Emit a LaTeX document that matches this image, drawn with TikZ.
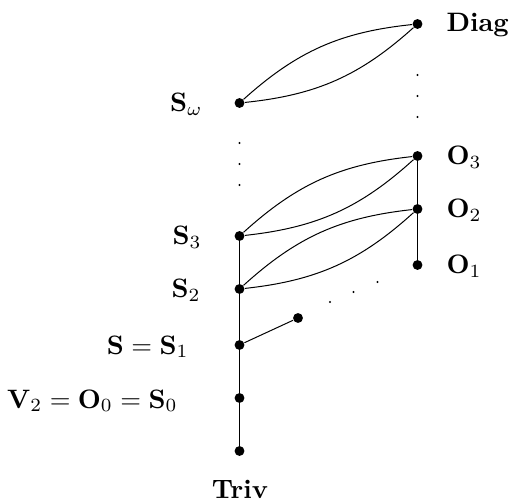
\documentclass[tikz,border=0pt]{standalone}
\begin{document}
\begin{tikzpicture}[x=0.375pt,y=-0.375pt,
  vtx/.style={circle,fill,inner sep=0pt,minimum size=3.7pt},
  smalldot/.style={circle,fill,inner sep=0pt,minimum size=0.85pt},
  lbl/.style={inner sep=0pt},
  every path/.style={line width=0.375pt}]
\useasboundingbox (0,0) rectangle (509,501);
% vertices
\node[vtx] (diag) at (417.5,24) {};
\node[vtx] (o3) at (417.5,156) {};
\node[vtx] (o2) at (417.5,209) {};
\node[vtx] (o1) at (417.5,265) {};
\node[vtx] (sw) at (239.5,103) {};
\node[vtx] (s3) at (239.5,236) {};
\node[vtx] (s2) at (239.5,289) {};
\node[vtx] (s1) at (239.5,345) {};
\node[vtx] (x1) at (298,318) {};
\node[vtx] (s0) at (239.5,398) {};
\node[vtx] (triv) at (239.5,451) {};
% small dots
\node[smalldot] (dr1) at (417.5,75) {};
\node[smalldot] (dr2) at (417.5,96) {};
\node[smalldot] (dr3) at (417.5,117) {};
\node[smalldot] (dl1) at (239.5,143) {};
\node[smalldot] (dl2) at (239.5,164) {};
\node[smalldot] (dl3) at (239.5,185) {};
\node[smalldot] (dd1) at (330,302) {};
\node[smalldot] (dd2) at (353.5,292) {};
\node[smalldot] (dd3) at (377.5,282) {};
% labels
\node[lbl,anchor=base west] (ldiag) at (446,32) {\textbf{Diag}};
\node[lbl,anchor=base west] (lo3) at (446,165) {$\mathbf{O}_3$};
\node[lbl,anchor=base west] (lo2) at (446,218) {$\mathbf{O}_2$};
\node[lbl,anchor=base west] (lo1) at (446,274) {$\mathbf{O}_1$};
\node[lbl,anchor=base east] (lsw) at (203,112) {$\mathbf{S}_\omega$};
\node[lbl,anchor=base east] (ls3) at (202,245) {$\mathbf{S}_3$};
\node[lbl,anchor=base east] (ls2) at (201,298) {$\mathbf{S}_2$};
\node[lbl,anchor=base east] (ls1) at (189,354) {$\mathbf{S}=\mathbf{S}_1$};
\node[lbl,anchor=base east] (ls0) at (178,408) {$\mathbf{V}_2=\mathbf{O}_0=\mathbf{S}_0$};
\node[lbl,anchor=base] (ltriv) at (240,498) {\textbf{Triv}};
% edges
\draw (sw) to[bend left=18] (diag);
\draw (sw) to[bend right=18] (diag);
\draw (s3) to[bend left=18] (o3);
\draw (s3) to[bend right=18] (o3);
\draw (s2) to[bend left=18] (o2);
\draw (s2) to[bend right=18] (o2);
\draw (o3) -- (o2) -- (o1);
\draw (s3) -- (s2) -- (s1) -- (s0) -- (triv);
\draw (s1) -- (x1);
\end{tikzpicture}
\end{document}
